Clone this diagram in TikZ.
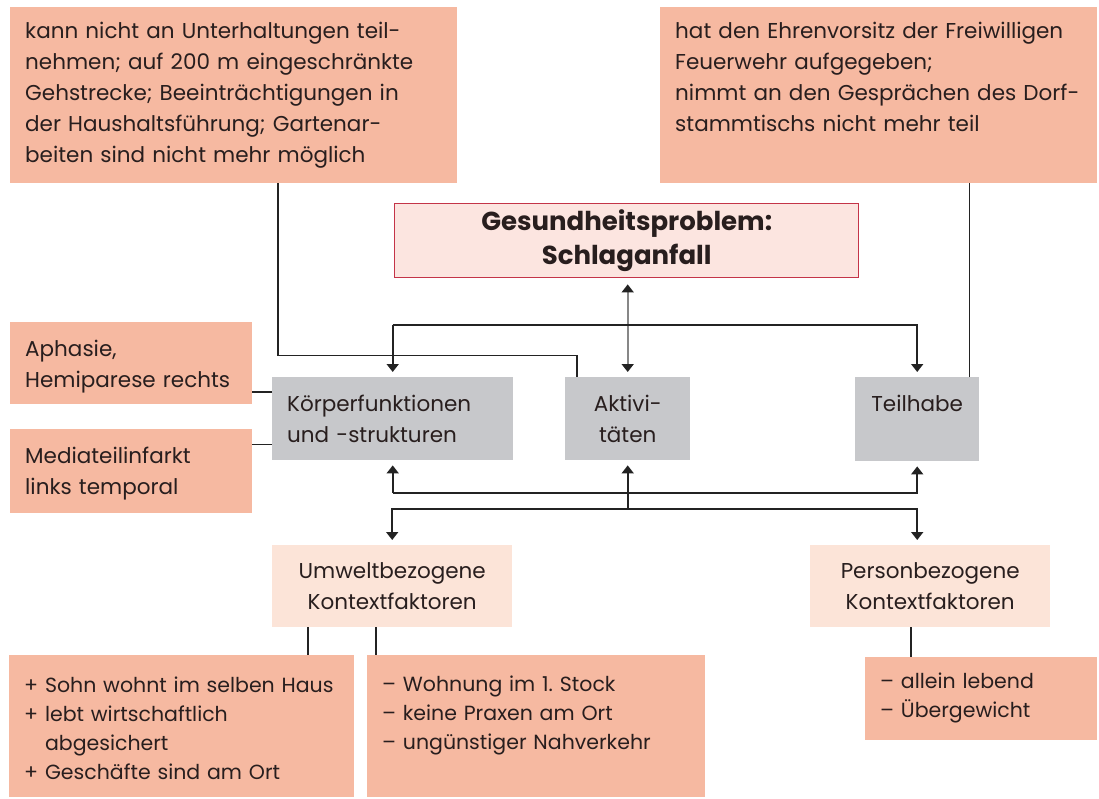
\documentclass[tikz,border=0pt]{standalone}
\usepackage{fontspec}
\setmainfont{Poppins}
\usetikzlibrary{arrows.meta}
\definecolor{notefill}{RGB}{246,185,161}
\definecolor{contextfill}{RGB}{252,228,216}
\definecolor{corefill}{RGB}{199,200,203}
\definecolor{healthfill}{RGB}{252,229,224}
\definecolor{healthline}{RGB}{196,52,72}
\definecolor{linecol}{RGB}{35,35,35}
\definecolor{midgray}{RGB}{135,135,135}
\definecolor{inkcol}{RGB}{40,30,30}
\frenchspacing
\begin{document}
\begin{tikzpicture}[x=1pt, y=-1pt,
	every node/.style={font=\fontsize{21.5}{31}\selectfont, text=inkcol, inner ysep=0pt},
	note box/.style={fill=notefill, anchor=north west, inner xsep=15pt, align=left},
	small note/.style={font=\fontsize{20.5}{29}\selectfont},
	core box/.style={fill=corefill, anchor=north west, minimum height=83pt},
	context box/.style={fill=contextfill, anchor=north west, minimum width=240pt, minimum height=82pt, align=center},
	link/.style={line width=1.7pt, draw=linecol},
	link arrow/.style={link, -{Triangle[width=12pt,length=8pt]}, shorten >=5pt}]

	\useasboundingbox (0,0) rectangle (1099,798);

	% notes above
	\node[note box, text width=417pt, text height=31pt, text depth=145pt] (Activity) at (10,7) {kann nicht an Unterhaltungen teil-\\nehmen; auf 200 m eingeschränkte\\Gehstrecke; Beeinträchtigungen in\\der Haushaltsführung; Gartenar-\\beiten sind nicht mehr möglich};
	\node[note box, text width=407pt, text height=31pt, text depth=145pt] (Participation) at (660,7) {hat den Ehrenvorsitz der Freiwilligen\\Feuerwehr aufgegeben;\\nimmt an den Gesprächen des Dorf-\\stammtischs nicht mehr teil};

	\node[draw=healthline, fill=healthfill, line width=1.4pt, anchor=north west, minimum width=464pt, minimum height=74pt, align=center, font=\fontsize{26}{34}\selectfont\bfseries] (Health) at (394,203) {Gesundheitsproblem:\\Schlaganfall};

	% notes left
	\node[note box, text width=212pt, text height=34pt, text depth=48pt] (Impairment) at (10,322) {Aphasie,\\Hemiparese rechts};
	\node[note box, text width=212pt, text height=34pt, text depth=50pt] (Structure) at (10,429) {Mediateilinfarkt\\links temporal};

	% components
	\node[core box, text width=211pt, inner xsep=15pt, align=left] (Body) at (272,377) {Körperfunktionen\\und -strukturen};
	\node[core box, minimum width=125pt, align=center] (Act) at (565,377) {Aktivi-\\täten};
	\node[core box, minimum width=124pt, minimum height=84pt, align=center] (Part) at (855,377) {Teilhabe\\\mbox{}};

	% context factors
	\node[context box] (Env) at (272,545) {Umweltbezogene\\Kontextfaktoren};
	\node[context box] (Pers) at (810,545) {Personbezogene\\Kontextfaktoren};

	\node[note box, small note, text width=315pt, text height=37pt, text depth=105pt] (EnvPlus) at (9,655) {+ Sohn wohnt im selben Haus\\+ lebt wirtschaftlich\\\phantom{+ }abgesichert\\+ Geschäfte sind am Ort};
	\node[note box, small note, text width=308pt, text height=36pt, text depth=106pt] (EnvMinus) at (367,655) {– Wohnung im 1. Stock\\– keine Praxen am Ort\\– ungünstiger Nahverkehr};
	\node[note box, small note, text width=202pt, text height=31pt, text depth=52pt] (PersNote) at (865,657) {– allein lebend\\– Übergewicht};

	% buses
	\coordinate (TopBus) at (0,325);
	\coordinate (UpBus) at (0,493);
	\coordinate (DownBus) at (0,509);

	\draw[link, draw=midgray, {Triangle[width=12pt,length=8pt,color=linecol]}-{Triangle[width=12pt,length=8pt,color=linecol]}, shorten <=6pt, shorten >=5pt] (Act.north |- Health.south) -- (Act.north);

	\draw[link arrow] (Body.north |- TopBus) -- (Body.north);
	\draw[link arrow] (Body.north |- TopBus) -| (Part.north);

	\draw[link arrow] (Body.south |- UpBus) -- (Body.south);
	\draw[link arrow] (Body.south |- UpBus) -| (Part.south);
	\draw[link arrow] (Act.south |- DownBus) -- (Act.south);
	\draw[link arrow] (Part.south |- DownBus) -| (Env.north);
	\draw[link arrow] (Env.north |- DownBus) -| (Part.south |- Pers.north);

	% notes to components
	\draw[link] ([xshift=44pt]Activity.south) -- ++(0,172) -| ([xshift=12pt]Act.north west);
	\coordinate (PartFoot) at ([xshift=-10pt]Part.north east);
	\draw[link] (PartFoot) -- (PartFoot |- Participation.south);
	\coordinate (BodyA) at ([yshift=-15pt]Body.north west);
	\draw[link] (BodyA) -- (BodyA -| Impairment.east);
	\coordinate (BodyB) at ([yshift=16pt]Body.south west);
	\draw[link] (BodyB) -- (BodyB -| Structure.east);

	% context factors to notes
	\coordinate (EnvA) at ([xshift=-84pt]Env.south);
	\draw[link] (EnvA) -- (EnvA |- EnvPlus.north);
	\coordinate (EnvB) at ([xshift=-16pt]Env.south);
	\draw[link] (EnvB) -- (EnvB |- EnvMinus.north);
	\coordinate (PersA) at ([xshift=-19pt]Pers.south);
	\draw[link] (PersA) -- (PersA |- PersNote.north);
\end{tikzpicture}
\end{document}
